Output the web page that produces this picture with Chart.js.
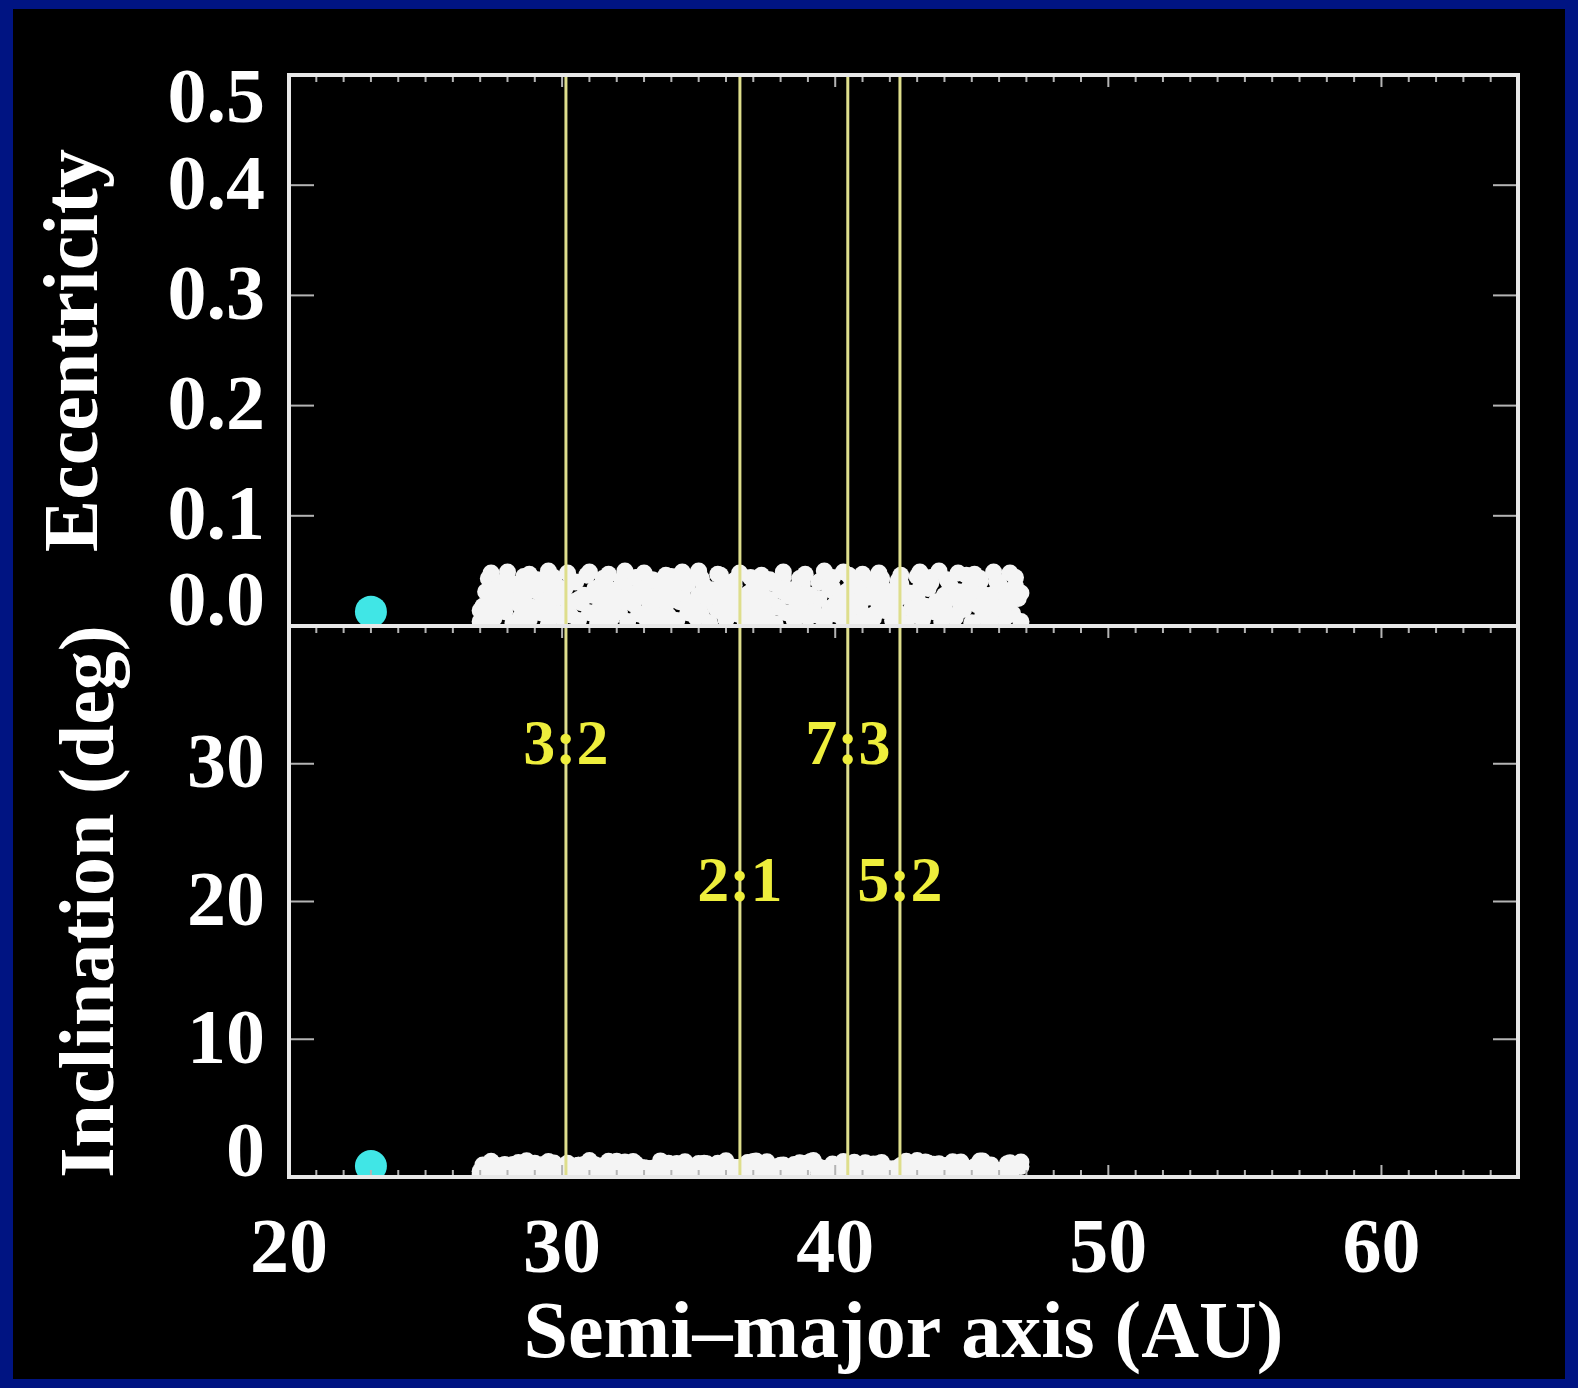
<!DOCTYPE html>
<html>
<head>
<meta charset="utf-8">
<script src="https://cdn.jsdelivr.net/npm/chart.js@4.4.1/dist/chart.umd.min.js"></script>
<style>
  html, body { margin: 0; padding: 0; background: #001482; }
  canvas { display: block; }
</style>
</head>
<body>
<canvas id="kbChart" width="1578" height="1388"></canvas>
<script>
// test particles: semi-major axis (AU), eccentricity, inclination (deg)
const semiMajor = [
  27.0, 27.5, 28.2, 28.8, 29.5, 30.0, 30.6, 31.3, 31.8, 32.4, 33.1, 33.6, 34.2, 34.9, 35.4, 36.0, 36.7,
  37.2, 37.8, 38.5, 39.0, 39.6, 40.3, 40.8, 41.4, 42.1, 42.6, 43.2, 43.9, 44.4, 45.0, 45.7, 46.2, 46.8,
  27.3, 27.9, 28.5, 29.2, 29.7, 30.3, 31.0, 31.5, 32.1, 32.8, 33.3, 33.9, 34.6, 35.1, 35.7, 36.4, 36.9,
  37.5, 38.2, 38.7, 39.3, 40.0, 40.5, 41.1, 41.8, 42.3, 42.9, 43.6, 44.1, 44.7, 45.4, 45.9, 46.5,
  27.1, 27.7, 28.4, 28.9, 29.6, 30.2, 30.7, 31.4, 31.9, 32.6, 33.2, 33.8, 34.3, 35.0, 35.6, 36.1, 36.8,
  37.4, 37.9, 38.6, 39.2, 39.8, 40.4, 40.9, 41.6, 42.2, 42.8, 43.3, 44.0, 44.6, 45.2, 45.8, 46.4,
  27.4, 28.0, 28.6, 29.3, 29.9, 30.4, 31.1, 31.7, 32.2, 32.9, 33.5, 34.0, 34.7, 35.3, 35.8, 36.5, 37.1,
  37.6, 38.3, 38.9, 39.4, 40.1, 40.7, 41.2, 41.9, 42.5, 43.0, 43.7, 44.3, 44.8, 45.5, 46.1, 46.7,
  27.2, 27.8, 28.3, 29.0, 29.6, 30.1, 30.8, 31.4, 32.0, 32.5, 33.2, 33.7, 34.4, 35.0, 35.5, 36.2, 36.8,
  37.3, 38.0, 38.6, 39.1, 39.8, 40.4, 40.9, 41.5, 42.2, 42.7, 43.4, 44.0, 44.5, 45.2, 45.8, 46.3,
  27.5, 28.1, 28.7, 29.4, 29.8, 30.5, 31.2, 31.6, 32.3, 32.9, 33.4, 34.1, 34.6, 35.2, 35.9, 36.3, 37.0,
  37.7, 38.1, 38.8, 39.5, 39.9, 40.6, 41.2, 41.7, 42.4, 43.1, 43.5, 44.2, 44.9, 45.3, 46.0, 46.6,
  27.3, 27.9, 28.6, 29.1, 29.7, 30.4, 30.9, 31.5, 32.2, 32.7, 33.3, 34.0, 34.5, 35.1, 35.8, 36.3, 36.9,
  37.6, 38.1, 38.7, 39.4, 39.9, 40.5, 41.2, 41.7, 42.3, 43.0, 43.5, 44.1, 44.8, 45.3, 45.9, 46.6,
  27.4, 28.0, 28.8, 29.5, 30.2, 31.0, 31.7, 32.3, 33.0, 33.8, 34.4, 35.0, 35.7, 36.5,
  37.3, 38.1, 38.9, 39.6, 40.3, 41.0, 41.6, 42.4, 43.1, 43.8, 44.5, 45.1, 45.8, 46.4,
  27.0, 27.6, 28.2, 31.8, 33.6, 35.4, 37.0, 38.4, 40.0, 41.4, 43.2, 44.6, 46.0, 46.8, 29.2, 30.6, 34.8, 39.0, 42.0, 45.6
];
const eccentricity = [
  0.004, 0.007, 0.003, 0.006, 0.002, 0.008, 0.005, 0.003, 0.007, 0.004, 0.006, 0.002, 0.005, 0.008, 0.003, 0.006, 0.004,
  0.007, 0.002, 0.005, 0.008, 0.004, 0.006, 0.003, 0.007, 0.005, 0.002, 0.006, 0.004, 0.008, 0.003, 0.005, 0.007, 0.004,
  0.011, 0.013, 0.009, 0.012, 0.014, 0.010, 0.012, 0.008, 0.013, 0.011, 0.015, 0.009, 0.012, 0.010, 0.014, 0.011, 0.013,
  0.009, 0.012, 0.015, 0.010, 0.011, 0.013, 0.009, 0.014, 0.012, 0.010, 0.013, 0.011, 0.015, 0.009, 0.012, 0.011,
  0.018, 0.016, 0.020, 0.017, 0.019, 0.015, 0.021, 0.018, 0.016, 0.020, 0.017, 0.019, 0.022, 0.016, 0.018, 0.020, 0.015,
  0.019, 0.017, 0.021, 0.018, 0.016, 0.020, 0.017, 0.019, 0.022, 0.016, 0.018, 0.020, 0.017, 0.019, 0.016, 0.021,
  0.025, 0.023, 0.027, 0.024, 0.026, 0.022, 0.028, 0.025, 0.023, 0.027, 0.024, 0.026, 0.021, 0.025, 0.028, 0.023, 0.026,
  0.024, 0.027, 0.022, 0.025, 0.028, 0.024, 0.026, 0.023, 0.027, 0.025, 0.022, 0.026, 0.024, 0.028, 0.023, 0.025,
  0.031, 0.033, 0.029, 0.032, 0.030, 0.034, 0.028, 0.031, 0.033, 0.029, 0.032, 0.035, 0.030, 0.028, 0.033, 0.031, 0.029,
  0.034, 0.032, 0.030, 0.028, 0.033, 0.031, 0.035, 0.029, 0.032, 0.030, 0.034, 0.028, 0.031, 0.033, 0.029, 0.032,
  0.037, 0.039, 0.035, 0.038, 0.036, 0.040, 0.034, 0.037, 0.039, 0.036, 0.041, 0.035, 0.038, 0.036, 0.040, 0.037, 0.034,
  0.039, 0.036, 0.038, 0.041, 0.035, 0.037, 0.040, 0.036, 0.038, 0.034, 0.039, 0.037, 0.035, 0.040, 0.038, 0.036,
  0.043, 0.041, 0.045, 0.042, 0.044, 0.040, 0.046, 0.043, 0.041, 0.044, 0.042, 0.045, 0.040, 0.043, 0.046, 0.041, 0.044,
  0.042, 0.045, 0.043, 0.040, 0.044, 0.046, 0.042, 0.043, 0.041, 0.045, 0.044, 0.042, 0.046, 0.043, 0.041, 0.044,
  0.048, 0.049, 0.047, 0.050, 0.048, 0.049, 0.047, 0.050, 0.048, 0.046, 0.049, 0.050, 0.047, 0.048,
  0.046, 0.049, 0.047, 0.050, 0.049, 0.047, 0.048, 0.046, 0.049, 0.050, 0.048, 0.047, 0.049, 0.048,
  0.014, 0.026, 0.038, 0.021, 0.008, 0.027, 0.016, 0.033, 0.020, 0.010, 0.014, 0.019, 0.016, 0.030, 0.040, 0.024, 0.044, 0.012, 0.031, 0.020
];
const inclination = [
  0.42, 0.95, 0.18, 0.71, 1.12, 0.33, 0.86, 0.55, 1.05, 0.27, 0.64, 0.21, 0.98, 0.47, 0.79, 1.18, 0.36, 0.60, 0.15, 0.90,
  1.02, 0.52, 0.25, 0.83, 0.68, 0.40, 1.15, 0.30, 0.75, 0.58, 0.20, 0.88, 0.45, 1.08, 0.62, 0.35, 0.97, 0.16, 0.73, 0.50,
  1.20, 0.28, 0.81, 0.57, 0.39, 1.00, 0.66, 0.23, 0.92, 0.44, 0.77, 1.10, 0.31, 0.54, 0.85, 0.19, 0.69, 1.04, 0.38, 0.61,
  0.26, 0.93, 0.49, 0.72, 1.16, 0.34, 0.59, 0.87, 0.17, 1.06, 0.63, 0.41, 0.99, 0.24, 0.80, 0.53, 1.13, 0.37, 0.70, 0.46,
  0.89, 0.22, 0.65, 1.01, 0.32, 0.76, 0.51, 1.19, 0.29, 0.84, 0.43, 0.96, 0.18, 0.67, 1.09, 0.55, 0.26, 0.82, 0.48, 0.74,
  1.14, 0.35, 0.60, 0.91, 0.21, 0.78, 0.45, 1.03, 0.31, 0.68, 0.52, 0.86, 0.16, 0.97, 0.40, 0.71, 1.17, 0.27, 0.63, 0.94,
  0.38, 0.79, 1.07, 0.23, 0.56, 0.88, 0.44, 0.19, 1.11, 0.66, 0.73, 0.30, 0.95, 0.50, 0.83, 0.36, 1.00, 0.58, 0.25, 0.90,
  0.47, 1.15, 0.62, 0.20, 0.77, 0.42, 0.98, 0.34, 0.69, 1.06, 0.28, 0.85, 0.54, 1.12, 0.39, 0.72, 0.17, 0.93, 0.61, 0.45,
  1.02, 0.33, 0.80, 0.57, 0.24, 0.96, 0.49, 0.75, 1.18, 0.37, 0.64, 0.21, 0.89, 0.43, 1.08, 0.59, 0.30, 0.82, 0.52, 0.99,
  0.18, 0.70, 1.13, 0.46, 0.87, 0.26, 0.65, 0.94, 0.40, 0.78, 1.05, 0.55, 0.32, 0.84, 0.61, 0.19, 1.16, 0.48, 0.73, 0.36,
  0.91, 0.42, 0.68, 1.01, 0.27, 0.80, 0.53, 0.22, 0.97, 0.63, 0.35, 1.10, 0.58, 0.76, 0.44, 0.89, 0.16, 0.70, 1.04, 0.50,
  0.81, 0.29, 0.95, 0.41, 0.66, 1.19, 0.38, 0.86, 0.24, 0.60, 0.47, 0.74, 1.07, 0.20, 0.92, 0.56, 0.33, 0.79, 1.14, 0.43,
  0.67, 0.25, 0.88, 0.51, 1.00, 0.37, 0.72, 0.18, 0.96, 0.59, 1.12, 0.45, 0.31, 0.83, 0.62, 0.97, 0.28, 0.75, 0.49, 1.03,
  0.22, 0.69, 0.90, 0.39, 1.17, 0.54, 0.81, 0.34, 0.65, 0.94, 0.57, 1.09, 0.26, 0.77, 0.46, 0.85, 0.30, 1.01, 0.60, 0.41
];

// Neptune
const neptuneA = 23.0;
const neptuneE = 0.013;
const neptuneI = 0.8;

// mean motion resonances with Neptune
const resonanceA = [30.14, 36.51, 40.46, 42.37];
const resonanceLabels = ['3:2', '2:1', '7:3', '5:2'];
const resonanceLabelInc = [31.4, 21.5, 31.4, 21.5];

// axes
const aRange = [20, 65];
const eRange = [0, 0.5];
const iRange = [0, 40];
const eccTicks = [0, 0.1, 0.2, 0.3, 0.4, 0.5];
const eccTickLabels = ['0.0', '0.1', '0.2', '0.3', '0.4', '0.5'];
const incTicks = [0, 10, 20, 30];
const incTickLabels = ['0', '10', '20', '30'];

const FONT = "'Liberation Serif', 'Times New Roman', serif";
const BIG = 78;

const resonanceSets = [];
resonanceA.forEach(a => {
    resonanceSets.push({ type: 'line', yAxisID: 'yE', data: [{x: a, y: eRange[0]}, {x: a, y: eRange[1]}] });
    resonanceSets.push({ type: 'line', yAxisID: 'yI', data: [{x: a, y: iRange[0]}, {x: a, y: iRange[1]}] });
});
resonanceSets.forEach(ds => {
    ds.borderColor = 'rgb(222,222,140)';
    ds.borderWidth = 3;
    ds.pointRadius = 0;
    ds.order = 0;
});

const particlesE = semiMajor.map((a, k) => ({x: a, y: eccentricity[k]}));
const particlesI = semiMajor.map((a, k) => ({x: a, y: inclination[k]}));

const panelPlugin = {
    id: 'panels',
    beforeDraw(chart) {
        const ctx = chart.ctx;
        ctx.save();
        ctx.fillStyle = '#001482';
        ctx.fillRect(0, 0, chart.width, chart.height);
        ctx.fillStyle = '#000';
        ctx.fillRect(13, 9, chart.width - 26, chart.height - 18);
        ctx.restore();
    },
    // clip each dataset to its own panel
    beforeDatasetDraw(chart, args) {
        const ctx = chart.ctx;
        const ys = chart.scales[args.meta.yAxisID];
        const area = chart.chartArea;
        ctx.save();
        ctx.beginPath();
        ctx.rect(area.left, ys.top, area.right - area.left, ys.bottom - ys.top);
        ctx.clip();
    },
    afterDatasetDraw(chart) {
        chart.ctx.restore();
    },
    afterDraw(chart) {
        const ctx = chart.ctx;
        const x = chart.scales.x, yE = chart.scales.yE, yI = chart.scales.yI;
        const xl = x.getPixelForValue(aRange[0]), xr = x.getPixelForValue(aRange[1]);
        ctx.save();

        // tick marks
        ctx.strokeStyle = '#b4b4b4';
        ctx.lineWidth = 2;
        const seg = (x1, y1, x2, y2) => { ctx.beginPath(); ctx.moveTo(x1, y1); ctx.lineTo(x2, y2); ctx.stroke(); };
        eccTicks.slice(1, -1).forEach(v => {
            const py = yE.getPixelForValue(v);
            seg(xl, py, xl + 25, py);
            seg(xr, py, xr - 25, py);
        });
        incTicks.slice(1).forEach(v => {
            const py = yI.getPixelForValue(v);
            seg(xl, py, xl + 25, py);
            seg(xr, py, xr - 25, py);
        });
        const eTop = yE.getPixelForValue(eRange[1]), eBot = yE.getPixelForValue(eRange[0]);
        const iBot = yI.getPixelForValue(iRange[0]);
        for (let a = aRange[0] + 1; a < aRange[1]; a++) {
            const px = x.getPixelForValue(a);
            const len = a % 10 === 0 ? 12 : 7;
            seg(px, eTop, px, eTop + len);
            seg(px, eBot, px, eBot + len);
            seg(px, iBot, px, iBot - len);
        }

        // panel frames
        ctx.strokeStyle = '#e8e8e8';
        ctx.lineWidth = 4;
        [yE, yI].forEach(s => {
            const t = s.getPixelForValue(s.max), b = s.getPixelForValue(s.min);
            ctx.strokeRect(xl, t, xr - xl, b - t);
        });

        // y tick labels, end labels kept inside the panel
        ctx.fillStyle = '#ffffff';
        ctx.font = 'bold ' + BIG + 'px ' + FONT;
        ctx.textAlign = 'right';
        ctx.textBaseline = 'alphabetic';
        const digitH = BIG * 0.6;
        const labelX = xl - 24;
        const axisLabels = (s, vals, texts) => vals.forEach((v, k) => {
            const py = s.getPixelForValue(v);
            let base = py + digitH / 2;
            if (v === s.max) base = py + digitH;
            if (v === s.min) base = py - 1;
            ctx.fillText(texts[k], labelX, base);
        });
        axisLabels(yE, eccTicks, eccTickLabels);
        axisLabels(yI, incTicks, incTickLabels);

        // resonance labels
        ctx.fillStyle = 'rgb(238,238,60)';
        ctx.font = 'bold 64px ' + FONT;
        ctx.textAlign = 'center';
        resonanceA.forEach((a, k) => {
            ctx.fillText(resonanceLabels[k], x.getPixelForValue(a), yI.getPixelForValue(resonanceLabelInc[k]) + 64 * 0.31);
        });
        ctx.restore();
    }
};

const titleFont = {family: FONT, size: BIG, weight: 'bold'};

new Chart(document.getElementById('kbChart'), {
    type: 'scatter',
    data: {
        datasets: [
            ...resonanceSets,
            { data: [{x: neptuneA, y: neptuneE}], yAxisID: 'yE', pointRadius: 16, backgroundColor: 'rgb(64,230,230)', pointBorderWidth: 0, order: 1 },
            { data: [{x: neptuneA, y: neptuneI}], yAxisID: 'yI', pointRadius: 16, backgroundColor: 'rgb(64,230,230)', pointBorderWidth: 0, order: 1 },
            { data: particlesE, yAxisID: 'yE', pointRadius: 8.5, backgroundColor: '#f4f4f4', pointBorderWidth: 0, order: 2 },
            { data: particlesI, yAxisID: 'yI', pointRadius: 8.5, backgroundColor: '#f4f4f4', pointBorderWidth: 0, order: 2 }
        ]
    },
    options: {
        responsive: false,
        animation: false,
        devicePixelRatio: 1,
        events: [],
        layout: { padding: { top: 75, right: 60, left: 0, bottom: 0 } },
        plugins: { legend: { display: false }, tooltip: { enabled: false } },
        scales: {
            x: {
                type: 'linear',
                position: 'bottom',
                min: aRange[0],
                max: aRange[1],
                grid: { display: false, drawTicks: false },
                border: { display: false },
                ticks: {
                    stepSize: 10,
                    includeBounds: false,
                    maxRotation: 0,
                    autoSkip: false,
                    padding: 28,
                    color: '#ffffff',
                    font: titleFont
                },
                title: {
                    display: true,
                    text: 'Semi–major axis (AU)',
                    color: '#ffffff',
                    font: {family: FONT, size: 80, weight: 'bold'},
                    padding: { top: 0, bottom: 4 }
                },
                afterFit(scale) { scale.height = 211; }
            },
            // left axes in a stack are laid out last-defined on top
            yI: {
                type: 'linear',
                position: 'left',
                stack: 'panels',
                stackWeight: 1,
                min: iRange[0],
                max: iRange[1],
                grid: { display: false, drawTicks: false },
                border: { display: false },
                ticks: { display: false },
                title: { display: true, text: 'Inclination (deg)', color: '#ffffff', font: titleFont, padding: { top: 46, bottom: 0 } },
                afterFit(scale) { scale.width = 289; }
            },
            yE: {
                type: 'linear',
                position: 'left',
                stack: 'panels',
                stackWeight: 1,
                min: eRange[0],
                max: eRange[1],
                grid: { display: false, drawTicks: false },
                border: { display: false },
                ticks: { display: false },
                title: { display: true, text: 'Eccentricity', color: '#ffffff', font: titleFont, padding: { top: 30, bottom: 0 } },
                afterFit(scale) { scale.width = 289; }
            }
        }
    },
    plugins: [panelPlugin]
});
</script>
</body>
</html>
